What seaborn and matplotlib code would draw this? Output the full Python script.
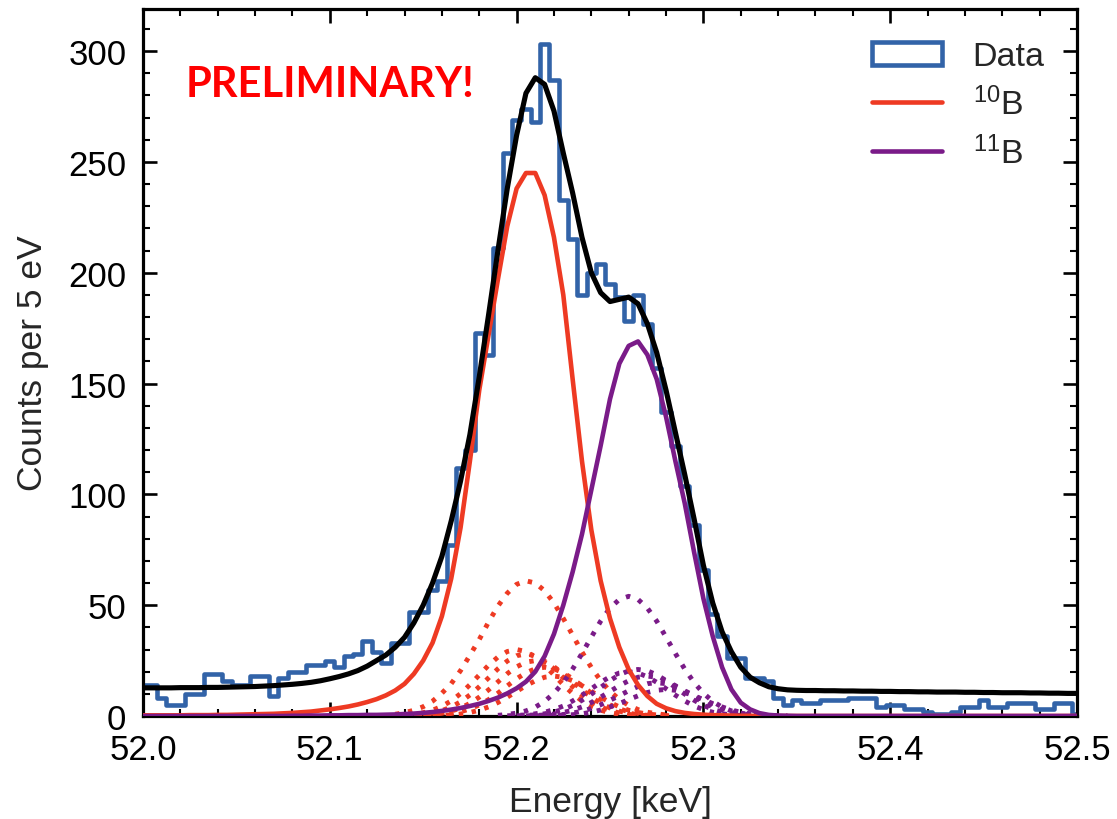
import numpy as np
import pandas as pd
import matplotlib
matplotlib.use("Agg")
import matplotlib.pyplot as plt
from matplotlib.patches import Patch
from matplotlib.lines import Line2D
from matplotlib.ticker import MultipleLocator, FormatStrFormatter
import seaborn as sns

# ---------------- data ----------------
energy_start = 52.000        # keV, first bin centre
energy_step = 0.005          # keV, bin width (5 eV)

counts = [14, 14, 8, 5, 5, 10, 10, 19, 19, 16,
          14, 14, 18, 18, 9, 17, 20, 20, 23, 23,
          25, 22, 27, 28, 34, 29, 24, 33, 33, 47,
          47, 57, 61, 77, 112, 120, 173, 163, 211, 254,
          269, 274, 268, 303, 287, 233, 215, 190, 200, 204,
          195, 189, 178, 190, 177, 157, 137, 122, 104, 86,
          66, 46, 36, 26, 26, 17, 17, 16, 8, 5,
          7, 6, 6, 7, 7, 7, 8, 8, 8, 4,
          5, 5, 3, 3, 2, 1, 1, 2, 4, 4,
          7, 4, 4, 6, 6, 6, 3, 3, 6, 6,
          1]

total_fit = [12.7, 12.7, 12.7, 12.7, 12.8, 12.8, 12.8, 12.9, 12.9, 13.0,
             13.1, 13.2, 13.3, 13.5, 13.7, 14.0, 14.3, 14.7, 15.2, 15.9,
             16.8, 17.8, 19.0, 20.5, 22.5, 25.0, 27.5, 31.0, 35.5, 42.0,
             50, 60, 72, 88, 106, 127, 153, 181, 210, 238,
             262, 281, 288, 285, 273, 254, 236, 216, 200, 191,
             187, 188, 189, 186, 177, 164, 147, 128, 109, 89,
             68, 51, 38, 29, 22, 17.5, 15.0, 13.2, 12.3, 11.8,
             11.6, 11.5, 11.5, 11.4, 11.4, 11.3, 11.3, 11.2, 11.2, 11.1,
             11.1, 11.0, 11.0, 10.9, 10.9, 10.8, 10.8, 10.8, 10.7, 10.7,
             10.6, 10.6, 10.5, 10.5, 10.5, 10.4, 10.4, 10.3, 10.3, 10.2,
             10.2]

b10_fit = [0.3, 0.3, 0.3, 0.3, 0.3, 0.4, 0.4, 0.4, 0.5, 0.5,
           0.6, 0.7, 0.8, 0.9, 1.0, 1.2, 1.4, 1.7, 2.0, 2.5,
           3.0, 3.6, 4.3, 5.2, 6.3, 7.6, 9.3, 11.5, 14.5, 19,
           25, 33, 45, 62, 85, 115, 147, 172, 197, 221,
           238, 245, 245, 235, 216, 190, 152, 115, 84, 61,
           44, 31, 21, 14, 9, 5.5, 3.5, 2.2, 1.4, 0.9,
           0.6, 0.4, 0.3, 0.2, 0.1, 0.1, 0, 0, 0, 0,
           0, 0, 0, 0, 0, 0, 0, 0, 0, 0,
           0, 0, 0, 0, 0, 0, 0, 0, 0, 0,
           0, 0, 0, 0, 0, 0, 0, 0, 0, 0,
           0]

b11_fit = [0, 0, 0, 0, 0, 0, 0, 0, 0, 0,
           0, 0, 0, 0, 0, 0, 0.1, 0.1, 0.2, 0.2,
           0.3, 0.3, 0.4, 0.4, 0.5, 0.5, 0.6, 0.7, 0.9, 1.1,
           1.4, 1.8, 2.3, 2.9, 3.6, 4.5, 5.5, 6.8, 8.3, 10.2,
           12.5, 15.5, 20, 27, 37, 50, 65, 82, 102, 122,
           143, 159, 167, 169, 163, 152, 135, 115, 96, 74,
           53, 36, 22, 12, 6, 3, 1.3, 0.5, 0.2, 0.1,
           0, 0, 0, 0, 0, 0, 0, 0, 0, 0,
           0, 0, 0, 0, 0, 0, 0, 0, 0, 0,
           0, 0, 0, 0, 0, 0, 0, 0, 0, 0,
           0]

# individual components (dotted); each: first energy + values every 5 eV
b10_comp_starts = [52.135, 52.135, 52.140, 52.145, 52.150, 52.155]
b10_comp_1 = [0.8, 1.5, 2.6, 4.2, 6.7, 10.3, 14.6, 20.5, 27.4, 34.5, 42.4, 49.6, 55.4, 59.4, 61,
              60, 56.5, 51, 44, 36.5, 28.9, 21.9, 16, 11.1, 7.5, 4.8, 2.9, 1.7, 1.0, 0.5]
b10_comp_2 = [0.2, 0.4, 0.8, 1.5, 2.6, 4.4, 6.8, 10.1, 14.1, 18.5, 22.9, 26.6, 29.1, 30,
              29.1, 26.6, 22.9, 18.5, 14.1, 10.1, 6.8, 4.4, 2.6, 1.5, 0.8, 0.4, 0.2]
b10_comp_3 = [0.2, 0.4, 0.7, 1.4, 2.4, 4.1, 6.4, 9.5, 13.2, 17.2, 21.3, 24.8, 27.2, 28,
              27.2, 24.8, 21.3, 17.2, 13.2, 9.5, 6.4, 4.1, 2.4, 1.4, 0.7, 0.4, 0.2]
b10_comp_4 = [0.2, 0.3, 0.7, 1.2, 2.2, 3.6, 5.7, 8.5, 11.8, 15.4, 19.1, 22.2, 24.3, 25,
              24.3, 22.2, 19.1, 15.4, 11.8, 8.5, 5.7, 3.6, 2.2, 1.2, 0.7, 0.3, 0.2]
b10_comp_5 = [0.1, 0.3, 0.6, 1.1, 1.9, 3.2, 5.0, 7.4, 10.3, 13.6, 16.8, 19.5, 21.3, 22,
              21.3, 19.5, 16.8, 13.6, 10.3, 7.4, 5.0, 3.2, 1.9, 1.1, 0.6, 0.3, 0.1]
b10_comp_6 = [0.1, 0.2, 0.5, 0.9, 1.6, 2.6, 4.1, 6.1, 8.5, 11.1, 13.7, 15.9, 17.5, 18,
              17.5, 15.9, 13.7, 11.1, 8.5, 6.1, 4.1, 2.6, 1.6, 0.9, 0.5, 0.2, 0.1]

b11_comp_starts = [52.190, 52.195, 52.200, 52.205, 52.210, 52.215]
b11_comp_1 = [0.3, 0.7, 1.3, 2.3, 4.0, 6.6, 10.3, 15.1, 21.2, 28.2, 35.6, 42.8, 48.7, 52.6, 54,
              52.6, 48.7, 42.8, 35.6, 28.2, 21.2, 15.1, 10.3, 6.6, 4.0, 2.3, 1.3, 0.7, 0.3]
b11_comp_2 = [0.1, 0.3, 0.5, 1.0, 1.7, 2.9, 4.5, 6.8, 9.4, 12.3, 15.2, 17.7, 19.4, 20,
              19.4, 17.7, 15.2, 12.3, 9.4, 6.8, 4.5, 2.9, 1.7, 1.0, 0.5, 0.3, 0.1]
b11_comp_3 = [0.1, 0.3, 0.5, 1.0, 1.8, 3.0, 4.8, 7.1, 9.9, 12.9, 16.0, 18.6, 20.4, 21,
              20.4, 18.6, 16.0, 12.9, 9.9, 7.1, 4.8, 3.0, 1.8, 1.0, 0.5, 0.3, 0.1]
b11_comp_4 = [0.1, 0.2, 0.5, 0.9, 1.6, 2.6, 4.1, 6.1, 8.5, 11.1, 13.7, 15.9, 17.5, 18,
              17.5, 15.9, 13.7, 11.1, 8.5, 6.1, 4.1, 2.6, 1.6, 0.9, 0.5, 0.2, 0.1]
b11_comp_5 = [0.1, 0.2, 0.4, 0.7, 1.3, 2.2, 3.4, 5.1, 7.1, 9.2, 11.4, 13.3, 14.6, 15,
              14.6, 13.3, 11.4, 9.2, 7.1, 5.1, 3.4, 2.2, 1.3, 0.7, 0.4, 0.2, 0.1]
b11_comp_6 = [0.1, 0.2, 0.3, 0.6, 1.0, 1.7, 2.7, 4.1, 5.6, 7.4, 9.1, 10.6, 11.6, 12,
              11.6, 10.6, 9.1, 7.4, 5.6, 4.1, 2.7, 1.7, 1.0, 0.6, 0.3, 0.2, 0.1]

legend_labels = ["Data", "$^{10}$B", "$^{11}$B"]
x_label = "Energy [keV]"
y_label = "Counts per 5 eV"
watermark = "PRELIMINARY!"

# ---------------- styling ----------------
sns.set_style("ticks")
plt.rcParams["font.family"] = ["Liberation Sans", "DejaVu Sans"]
plt.rcParams["mathtext.fontset"] = "custom"
plt.rcParams["mathtext.rm"] = "Liberation Sans"
plt.rcParams["mathtext.it"] = "Liberation Sans:italic"
plt.rcParams["mathtext.bf"] = "Liberation Sans:bold"

C_DATA = "#3263A8"
C_B10 = "#EE3A23"
C_B11 = "#7A1B88"

fig = plt.figure(figsize=(11.17, 8.2), dpi=100)
ax = fig.add_axes([143 / 1117, 103 / 820, 934 / 1117, 707 / 820])

n = len(counts)
energy = np.round(energy_start + energy_step * np.arange(n), 4)
edges = [round(energy_start - energy_step / 2 + energy_step * i, 5) for i in range(n + 1)]
hist_df = pd.DataFrame({"energy": energy, "counts": np.asarray(counts, dtype=float)})

sns.histplot(data=hist_df, x="energy", weights="counts", bins=edges, element="step",
             fill=False, color=C_DATA, linewidth=3.3, ax=ax, zorder=2)

dot_style = dict(linestyle=(0, (0.9, 1.8)), linewidth=3.5, dash_capstyle="butt")

def comp_energy(start, vals):
    return np.round(start + energy_step * np.arange(len(vals)), 4)

b10_comps = [b10_comp_1, b10_comp_2, b10_comp_3, b10_comp_4, b10_comp_5, b10_comp_6]
b11_comps = [b11_comp_1, b11_comp_2, b11_comp_3, b11_comp_4, b11_comp_5, b11_comp_6]
for st, vals in zip(b10_comp_starts, b10_comps):
    sns.lineplot(x=comp_energy(st, vals), y=np.asarray(vals), color=C_B10, ax=ax, zorder=3, **dot_style)
for st, vals in zip(b11_comp_starts, b11_comps):
    sns.lineplot(x=comp_energy(st, vals), y=np.asarray(vals), color=C_B11, ax=ax, zorder=3, **dot_style)

sns.lineplot(x=energy, y=np.asarray(b10_fit), color=C_B10, linewidth=3.3, ax=ax, zorder=4)
sns.lineplot(x=energy, y=np.asarray(b11_fit), color=C_B11, linewidth=3.3, ax=ax, zorder=4)
sns.lineplot(x=energy, y=np.asarray(total_fit), color="black", linewidth=3.7, ax=ax, zorder=5)

ax.set_xlim(52.0, 52.5)
ax.set_ylim(0, 319)
ax.xaxis.set_major_locator(MultipleLocator(0.1))
ax.xaxis.set_minor_locator(MultipleLocator(0.02))
ax.yaxis.set_major_locator(MultipleLocator(50))
ax.yaxis.set_minor_locator(MultipleLocator(10))
ax.xaxis.set_major_formatter(FormatStrFormatter("%.1f"))

for side in ax.spines.values():
    side.set_linewidth(2.3)
    side.set_color("black")
    side.set_visible(True)
ax.tick_params(which="both", direction="in", top=True, right=True, colors="black",
               labelsize=25)
ax.tick_params(axis="x", which="both", pad=12)
ax.tick_params(axis="y", which="both", pad=12)
ax.tick_params(which="major", length=10, width=1.9)
ax.tick_params(which="minor", length=5, width=1.5)

ax.set_xlabel(x_label, fontsize=25.5, labelpad=14)
ax.set_ylabel(y_label, fontsize=25.5, labelpad=14)

ax.text(0.046, 0.894, watermark, transform=ax.transAxes, ha="left", va="center",
        color="#FF0000", fontsize=30, fontweight="bold", family=["Lato", "DejaVu Sans"])

handles = [Patch(facecolor="white", edgecolor=C_DATA, linewidth=3.3),
           Line2D([], [], color=C_B10, linewidth=3.3),
           Line2D([], [], color=C_B11, linewidth=3.3)]
ax.legend(handles, legend_labels, loc="upper right", bbox_to_anchor=(1.0, 1.0),
          frameon=False, fontsize=24.5, handlelength=2.05, handleheight=0.7,
          handletextpad=0.9, labelspacing=0.42, borderaxespad=0.55)

fig.savefig("out.png", dpi=100)
